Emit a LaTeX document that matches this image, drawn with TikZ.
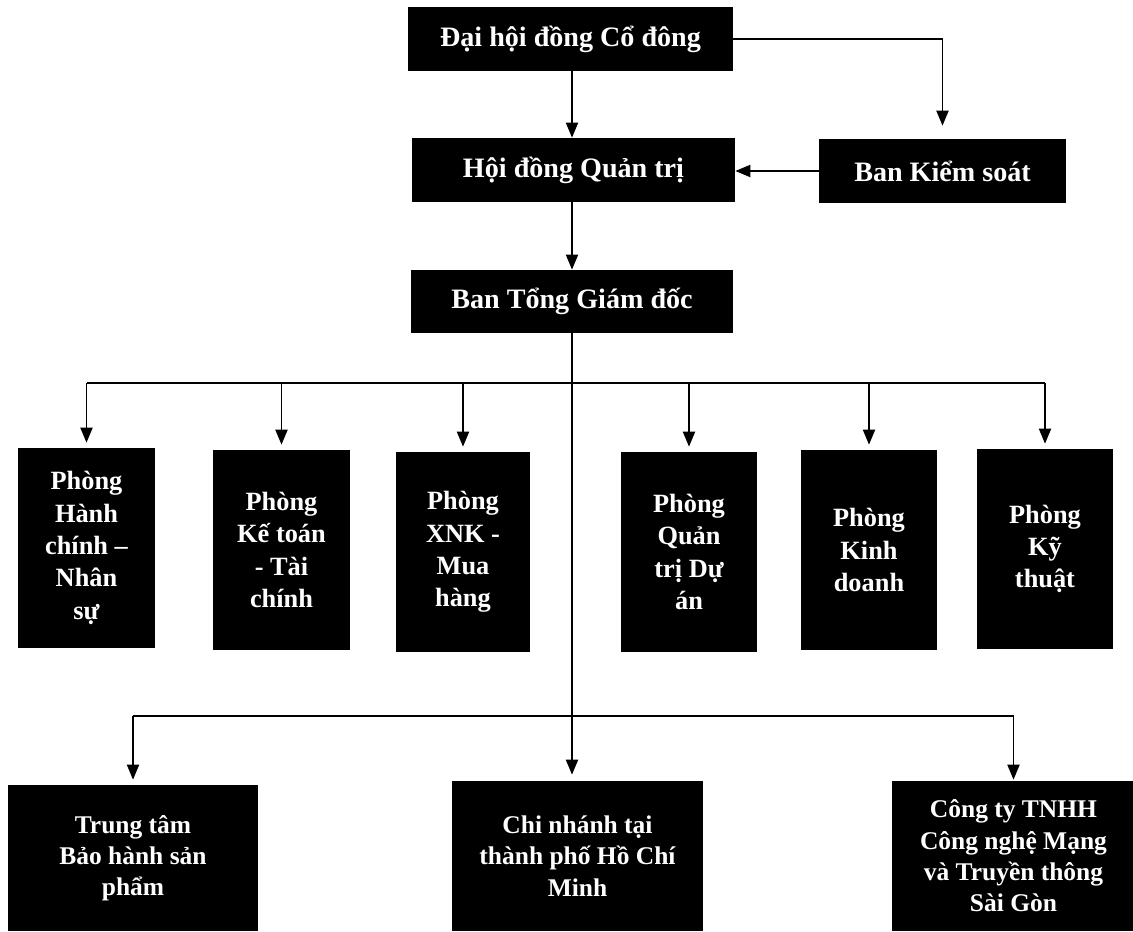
\documentclass[tikz,border=0pt]{standalone}
\usepackage{fontspec}
\setmainfont{Liberation Serif}
\usetikzlibrary{arrows.meta}
\begin{document}
\begin{tikzpicture}[x=0.02cm, y=-0.02cm,
  box/.style = {fill=black, text=white, inner sep=0pt, align=center},
  topfont/.style = {font=\fontsize{16}{19}\selectfont\bfseries},
  midfont/.style = {font=\fontsize{15}{18.4}\selectfont\bfseries},
  lowfont/.style = {font=\fontsize{14.5}{17.8}\selectfont\bfseries},
  arr/.style = {line width=1.1pt, -{Triangle[length=3mm, width=2.4mm]}},
  ln/.style = {line width=1.1pt}]
\useasboundingbox (0,0) rectangle (1133,931);

\node[box, topfont, minimum width=6.5cm, minimum height=1.28cm] (dhcd) at (570.5,39) {Đại hội đồng Cổ đông};
\node[box, topfont, minimum width=6.46cm, minimum height=1.28cm] (hdqt) at (573.5,170) {Hội đồng Quản trị};
\node[box, topfont, minimum width=4.94cm, minimum height=1.28cm] (bks) at (942.5,171) {Ban Kiểm soát};
\node[box, topfont, minimum width=6.44cm, minimum height=1.26cm] (tgd) at (572,301.5) {Ban Tổng Giám đốc};

\node[box, midfont, minimum width=2.74cm, minimum height=4cm] (hcns) at (86.5,548) {Phòng\\Hành\\chính –\\Nhân\\sự};
\node[box, midfont, minimum width=2.74cm, minimum height=4cm] (ketoan) at (281.5,550) {Phòng\\Kế toán\\- Tài\\chính};
\node[box, midfont, minimum width=2.68cm, minimum height=4cm] (xnk) at (463,552) {Phòng\\XNK -\\Mua\\hàng};
\node[box, midfont, minimum width=2.72cm, minimum height=4cm] (qtda) at (689,552) {Phòng\\Quản\\trị Dự\\án};
\node[box, midfont, minimum width=2.72cm, minimum height=4cm] (kd) at (869,550) {Phòng\\Kinh\\doanh};
\node[box, midfont, minimum width=2.72cm, minimum height=4cm] (kt) at (1045,549) {Phòng\\Kỹ\\thuật};

\node[box, lowfont, minimum width=5cm, minimum height=2.92cm] (baohanh) at (133,858) {Trung tâm\\Bảo hành sản\\phẩm};
\node[box, lowfont, minimum width=5.02cm, minimum height=3cm] (cn) at (577.5,856) {Chi nhánh tại\\thành phố Hồ Chí\\Minh};
\node[box, lowfont, minimum width=4.86cm, minimum height=3cm] (cty) at (1013.5,856) {Công ty TNHH\\Công nghệ Mạng\\và Truyền thông\\Sài Gòn};

\coordinate (bus1) at (0,383);
\coordinate (bus2) at (0,716);

\draw[arr] (dhcd.south -| 572,0) -- (hdqt.north -| 572,0);
\draw[arr, shorten >=0.26cm] (dhcd.east) -| (bks.north);
\draw[arr] (bks.west) -- (bks.west -| hdqt.east);
\draw[arr] (hdqt.south -| 572,0) -- (tgd.north -| 572,0);
\draw[arr, shorten >=0.12cm] (tgd.south -| 572,0) -- (cn.north -| 572,0);

\draw[ln] (hcns |- bus1) -- (kt |- bus1);
\draw[arr, shorten >=0.1cm] (hcns |- bus1) -- (hcns.north);
\draw[arr, shorten >=0.1cm] (ketoan |- bus1) -- (ketoan.north);
\draw[arr, shorten >=0.1cm] (xnk |- bus1) -- (xnk.north);
\draw[arr, shorten >=0.1cm] (qtda |- bus1) -- (qtda.north);
\draw[arr, shorten >=0.1cm] (kd |- bus1) -- (kd.north);
\draw[arr, shorten >=0.1cm] (kt |- bus1) -- (kt.north);

\draw[ln] (baohanh |- bus2) -- (cty |- bus2);
\draw[arr, shorten >=0.1cm] (baohanh |- bus2) -- (baohanh.north);
\draw[arr, shorten >=0.02cm] (cty |- bus2) -- (cty.north);
\end{tikzpicture}
\end{document}
